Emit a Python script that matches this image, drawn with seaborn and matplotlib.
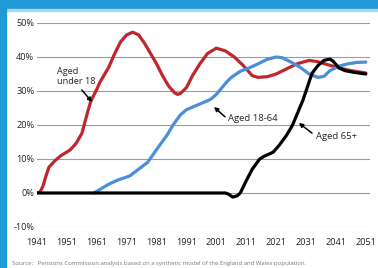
import pandas as pd
import seaborn as sns
from matplotlib import pyplot as plt
from matplotlib.patches import Rectangle

# values (percent)
under18_years = [1941, 1942, 1943, 1944, 1945, 1947, 1949, 1952, 1954, 1956, 1958, 1959, 1961, 1962, 1963,
                 1965, 1967, 1969, 1971, 1973, 1975, 1977, 1979, 1981, 1983, 1985, 1987, 1988, 1989, 1991,
                 1993, 1995.5, 1998, 2001, 2004, 2007, 2010, 2013, 2015, 2018, 2021, 2024, 2028, 2032, 2035,
                 2038, 2042, 2046, 2051]
under18_vals = [0, 0.3, 2, 5, 7.6, 9.5, 11, 12.6, 14.5, 17.5, 24, 27, 30.5, 32.5, 34,
                37, 41, 44.5, 46.5, 47.3, 46.5, 44, 41, 38, 34.5, 31.5, 29.5, 29, 29.3, 31,
                34.5, 38, 41, 42.6, 41.8, 40, 37.5, 34.5, 34, 34.2, 35, 36.3, 38, 39, 38.6,
                37.8, 36.8, 36, 35.3]

working_years = [1960, 1962, 1965, 1968, 1972, 1975, 1978, 1980, 1982, 1984.5, 1986.5, 1989, 1991, 1995,
                 1999, 2001, 2004.5, 2006, 2009, 2012, 2015, 2018, 2021, 2023, 2026, 2029, 2032, 2035,
                 2037, 2039, 2042, 2045, 2048, 2051]
working_vals = [0, 1, 2.6, 3.8, 5, 7, 9, 11.5, 14, 17, 20, 23, 24.5, 26,
                27.5, 29, 32.7, 34, 35.8, 36.8, 38, 39.3, 40, 39.8, 38.5, 37, 35, 34,
                34.3, 36, 37.3, 38, 38.4, 38.5]

over65_years = [1941, 2004, 2005, 2006.5, 2008, 2009, 2011, 2013, 2015.5, 2017, 2020, 2022, 2024.5,
                2026.5, 2030, 2033, 2035, 2037, 2039, 2040, 2041, 2042, 2044, 2047, 2051]
over65_vals = [0, 0, -0.3, -1.2, -0.8, 0, 3.6, 7, 10, 10.8, 12, 14, 17,
               20, 27.4, 35.2, 37.5, 39, 39.4, 38.8, 37.8, 36.8, 36, 35.5, 35]

series_names = ['Aged under 18', 'Aged 18-64', 'Aged 65+']
colors = ['#c0262d', '#4a8fd8', '#000000']
xticks = list(range(1941, 2052, 10))
yticks = [-10, 0, 10, 20, 30, 40, 50]
source = 'Source:   Pensions Commission analysis based on a synthetic model of the England and Wales population.'

df = pd.concat([
    pd.DataFrame({'year': under18_years, 'value': under18_vals, 'group': series_names[0]}),
    pd.DataFrame({'year': working_years, 'value': working_vals, 'group': series_names[1]}),
    pd.DataFrame({'year': over65_years, 'value': over65_vals, 'group': series_names[2]}),
])

sns.set_style('white')
plt.rcParams['font.family'] = ['Open Sans', 'DejaVu Sans']

fig = plt.figure(figsize=(3.78, 2.68), dpi=100)
ax = fig.add_axes([37 / 378, 1 - 227 / 268, 333 / 378, 204 / 268])

ax.grid(axis='y', color='#9c9c9c', lw=0.8)
ax.set_axisbelow(True)
sns.lineplot(data=df, x='year', y='value', hue='group', palette=dict(zip(series_names, colors)),
             hue_order=series_names, lw=2.3, legend=False, ax=ax, sort=False,
             solid_joinstyle='round', solid_capstyle='round')

ax.set_xlim(1941, 2052.4)
ax.set_ylim(-10, 50)
ax.set_xticks(xticks)
ax.set_xticklabels([str(t) for t in xticks], fontsize=6.6, color='#222222')
ax.set_yticks(yticks)
ax.set_yticklabels([f'{t}%' for t in yticks], fontsize=6.6, color='#222222')
ax.tick_params(axis='x', length=0, pad=8)
ax.tick_params(axis='y', length=0, pad=2)
ax.set_xlabel('')
ax.set_ylabel('')
for s in ax.spines.values():
    s.set_visible(False)

arrow = dict(arrowstyle='-|>', color='black', lw=1.1, mutation_scale=6, shrinkA=0, shrinkB=0)
ax.text(1947.7, 34.3, 'Aged\nunder 18', fontsize=6.6, va='center', ha='left', linespacing=1.05)
ax.annotate('', xy=(1959.4, 26.8), xytext=(1956, 30.3), arrowprops=arrow)
ax.text(2005, 22, 'Aged 18-64', fontsize=6.8, va='center', ha='left')
ax.annotate('', xy=(2000.2, 25.3), xytext=(2003.9, 22.4), arrowprops=arrow)
ax.text(2034.3, 16.5, 'Aged 65+', fontsize=6.8, va='center', ha='left')
ax.annotate('', xy=(2028.6, 20.6), xytext=(2033, 17.6), arrowprops=arrow)

# blue frame at the top and left
fig.patches.append(Rectangle((0, 1 - 9 / 268), 1, 9 / 268, transform=fig.transFigure,
                             color='#1f9ad6', zorder=0))
fig.patches.append(Rectangle((0, 1 - 10.5 / 268), 1, 1.5 / 268, transform=fig.transFigure,
                             color='#aad8f0', zorder=0))
fig.patches.append(Rectangle((0, 0), 6 / 378, 1, transform=fig.transFigure,
                             color='#1f9ad6', zorder=0))

fig.text(12 / 378, 1 - 264 / 268, source, fontsize=4.3, color='#777777', va='center', ha='left')

fig.savefig('out.png', dpi=100)
